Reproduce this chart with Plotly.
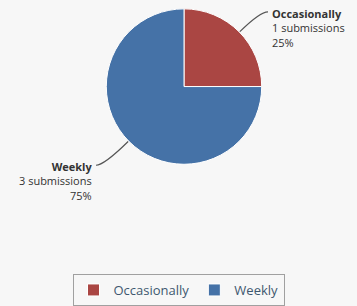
import math
import plotly.graph_objects as go

categories = ["Occasionally", "Weekly"]
values = [1, 3]
colors = ["#AA4643", "#4572A7"]

W, H = 357, 306
# pie geometry in pixels
cx, cy, r = 184.0, 88.0, 79.0
FONT = "Open Sans"

fig = go.Figure()
fig.add_trace(go.Pie(
    labels=categories, values=values, sort=False, direction="clockwise", rotation=0,
    marker=dict(colors=colors, line=dict(color="#ffffff", width=1)),
    textinfo="none", hoverinfo="label+value+percent",
    domain=dict(x=[(cx - r) / W, (cx + r) / W], y=[1 - (cy + r) / H, 1 - (cy - r) / H]),
))

def px(x):
    return x / W

def py(y):
    return 1 - y / H

total = sum(values)
shapes = []
annotations = []
start = 0.0
for cat, v in zip(categories, values):
    frac = v / total
    mid = (start + frac / 2) * 2 * math.pi
    start += frac
    sx, sy = math.sin(mid), -math.cos(mid)
    ex, ey = cx + r * sx, cy + r * sy
    right = sx >= 0
    ly = cy - r + 3 if sy < 0 else cy + r + 1
    t = abs(ly - ey) / abs(sy)
    qx, qy = ex + t * sx, ly
    endx = qx + (8 if right else -8)
    shapes.append(dict(
        type="path", xref="paper", yref="paper",
        path=f"M {px(ex)},{py(ey)} Q {px(qx)},{py(qy)} {px(endx)},{py(ly)}",
        line=dict(color="#555555", width=1.2),
    ))
    txt = f"<b>{cat}</b><br>{v} submissions<br>{round(frac * 100)}%"
    annotations.append(dict(
        x=px(endx + (2 if right else -2)), y=py(ly - 8), xref="paper", yref="paper",
        xanchor="left" if right else "right", yanchor="top",
        align="left" if right else "right",
        text=txt, showarrow=False,
        font=dict(family=FONT, size=11, color="#333333"),
    ))

fig.update_layout(
    width=W, height=H,
    margin=dict(l=0, r=0, t=0, b=0),
    paper_bgcolor="#f7f7f7", plot_bgcolor="#f7f7f7",
    shapes=shapes, annotations=annotations,
    showlegend=True,
    legend=dict(
        orientation="h", x=0.5, xanchor="center", y=py(279), yanchor="top",
        bordercolor="#a0a0a0", borderwidth=1, bgcolor="#f7f7f7",
        font=dict(family=FONT, size=13, color="#3E576F"),
        itemwidth=30,
    ),
)

fig.write_html("out.html", config={"displayModeBar": False})
with open("out.html", "r", encoding="utf-8") as f:
    html = f.read()
html = html.replace("<head>", "<head><style>html,body{margin:0;padding:0;overflow:hidden;background:#f7f7f7;}</style>", 1)
with open("out.html", "w", encoding="utf-8") as f:
    f.write(html)
